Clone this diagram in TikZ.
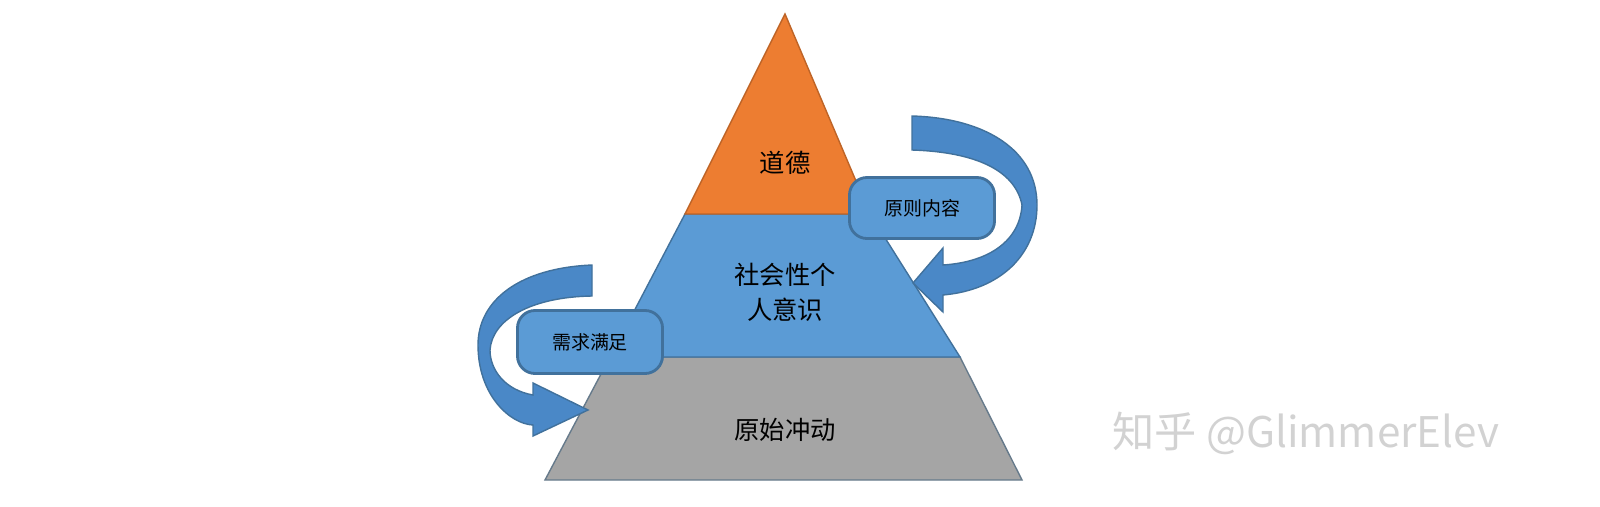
\documentclass[tikz,border=0pt]{standalone}
\usepackage{fontspec}
\newfontfamily\cjk{Noto Sans CJK SC}
\begin{document}
\begin{tikzpicture}[x=0.01cm,y=-0.01cm,
  lbl/.style={font=\cjk\fontsize{7.2}{10}\selectfont, align=center, text=black},
  boxlbl/.style={font=\cjk\fontsize{5.4}{7}\selectfont, text=black},
  tagbox/.style={draw=bdr, line width=0.8pt, fill=midblue, rounded corners=5pt, minimum width=1.45cm, boxlbl},
  carrow/.style={fill=arrblue, draw=bdr, line width=0.4pt}]
\definecolor{orng}{HTML}{ED7D31}
\definecolor{midblue}{HTML}{5B9BD5}
\definecolor{gry}{HTML}{A5A5A5}
\definecolor{bdr}{HTML}{41719C}
\definecolor{arrblue}{HTML}{4A88C7}
\useasboundingbox (0,0) rectangle (1600,506);
% pyramid
\fill[gry,draw=bdr!40!gray,line width=0.4pt] (610,357) -- (960,357) -- (1022,480) -- (545,480) -- cycle;
\fill[midblue,draw=bdr,line width=0.4pt] (685,214) -- (870,214) -- (960,357) -- (610,357) -- cycle;
\fill[orng,draw=orng!80!black,line width=0.4pt] (785,14) -- (870,214) -- (685,214) -- cycle;
\node[lbl] (t) at (785,163) {道德};
\node[lbl] (m) at (785,292) {社会性个\\人意识};
\node[lbl] (b) at (785,430) {原始冲动};
% right curved arrow
\path[carrow] (912,116) .. controls (985,118) and (1037,150) .. (1037,205)
  .. controls (1037,255) and (1000,290) .. (943,295) -- (943,312) -- (913,283) -- (943,248) -- (943,265)
  .. controls (990,262) and (1020,240) .. (1022,205)
  .. controls (1015,170) and (975,152) .. (912,150) -- cycle;
% left curved arrow
\path[carrow] (592,265) .. controls (520,268) and (478,300) .. (478,345)
  .. controls (478,395) and (510,424) .. (533,425) -- (533,436) -- (588,410) -- (533,383) -- (533,395)
  .. controls (505,390) and (490,370) .. (490,350)
  .. controls (492,320) and (530,297) .. (592,296) -- cycle;
% boxes
\node[tagbox, minimum height=0.61cm] (r) at (922,208) {原则内容};
\node[tagbox, minimum height=0.63cm] (l) at (590,342) {需求满足};
% watermark
\node[font=\cjk\fontsize{12}{14}\selectfont, text=gray!35, anchor=west] (w) at (1100,433) {知乎 @GlimmerElev};
\end{tikzpicture}
\end{document}
